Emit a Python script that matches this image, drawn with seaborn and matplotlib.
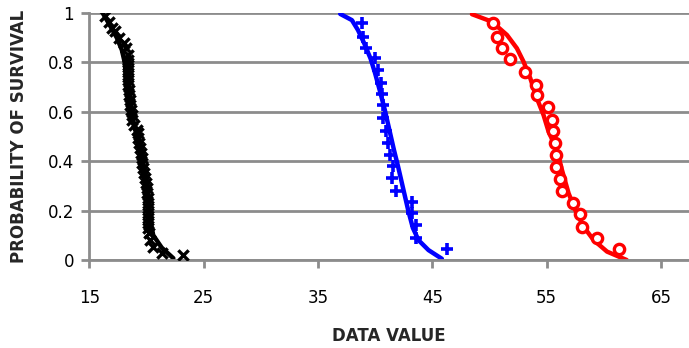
import matplotlib
matplotlib.use("Agg")
import matplotlib.pyplot as plt
import seaborn as sns
import pandas as pd

# ---- data ----
black_x = [16.38, 16.73, 16.97, 17.26, 17.60, 18.07, 18.19, 18.37, 18.37, 18.42,
           18.42, 18.42, 18.42, 18.42, 18.48, 18.48, 18.54, 18.57, 18.66, 18.72,
           18.77, 18.95, 19.16, 19.30, 19.30, 19.36, 19.45, 19.50, 19.59, 19.65,
           19.73, 19.79, 19.88, 19.94, 20.03, 20.08, 20.12, 20.12, 20.12, 20.12,
           20.12, 20.12, 20.17, 20.23, 20.32, 20.61, 21.34, 23.23]
black_y = [0.988, 0.964, 0.940, 0.924, 0.897, 0.877, 0.856, 0.829, 0.809, 0.789,
           0.768, 0.748, 0.728, 0.708, 0.687, 0.667, 0.647, 0.627, 0.607, 0.586,
           0.566, 0.546, 0.526, 0.512, 0.492, 0.472, 0.452, 0.431, 0.411, 0.391,
           0.371, 0.351, 0.330, 0.310, 0.290, 0.270, 0.250, 0.229, 0.209, 0.189,
           0.169, 0.148, 0.128, 0.108, 0.081, 0.054, 0.028, 0.020]

blue_x = [38.84, 38.98, 39.22, 40.00, 40.29, 40.50, 40.59, 40.73, 40.73, 40.97,
          41.17, 41.26, 41.55, 41.52, 41.84, 43.21, 43.21, 43.59, 43.59, 46.33]
blue_y = [0.957, 0.903, 0.858, 0.815, 0.768, 0.714, 0.670, 0.627, 0.573, 0.522,
          0.472, 0.425, 0.380, 0.330, 0.280, 0.236, 0.189, 0.142, 0.088, 0.045]

red_x = [50.30, 50.65, 51.09, 51.82, 53.13, 54.09, 54.20, 55.08, 55.46, 55.60,
         55.70, 55.80, 55.85, 56.19, 56.34, 57.30, 57.88, 58.09, 59.40, 61.29]
red_y = [0.957, 0.903, 0.858, 0.811, 0.761, 0.707, 0.667, 0.620, 0.566, 0.522,
         0.472, 0.425, 0.377, 0.326, 0.280, 0.229, 0.185, 0.135, 0.088, 0.043]

black_fit_x = [16.24, 16.80, 17.40, 17.85, 18.10, 18.30, 18.50, 18.80, 19.20,
               19.50, 19.80, 20.05, 20.25, 20.60, 21.34, 22.36]
black_fit_y = [0.994, 0.950, 0.900, 0.850, 0.800, 0.700, 0.620, 0.560, 0.500,
               0.420, 0.340, 0.260, 0.180, 0.100, 0.050, 0.007]

blue_fit_x = [36.95, 37.97, 38.50, 39.05, 39.60, 40.00, 40.40, 40.85, 41.25,
              41.65, 42.00, 42.40, 42.90, 43.30, 43.80, 44.67, 45.84]
blue_fit_y = [0.995, 0.970, 0.930, 0.876, 0.815, 0.755, 0.687, 0.607, 0.526,
              0.445, 0.380, 0.300, 0.200, 0.130, 0.080, 0.040, 0.005]

red_fit_x = [48.47, 50.20, 51.53, 52.40, 52.98, 53.57, 54.15, 54.73, 55.17,
             55.90, 56.34, 56.92, 57.50, 58.23, 59.10, 60.28, 62.00]
red_fit_y = [0.994, 0.964, 0.910, 0.856, 0.802, 0.735, 0.654, 0.586, 0.519,
             0.445, 0.364, 0.270, 0.202, 0.135, 0.081, 0.034, 0.000]

x_ticks = [15, 25, 35, 45, 55, 65]
y_ticks = [0, 0.2, 0.4, 0.6, 0.8, 1]
y_tick_labels = ["0", "0.2", "0.4", "0.6", "0.8", "1"]

sns.set_style("white")
plt.rcParams["font.family"] = ["Liberation Sans Narrow", "DejaVu Sans"]

fig = plt.figure(figsize=(6.89, 3.48), dpi=100)
ax = fig.add_axes([89.2 / 689, 1 - 260 / 348, 1 - 89.2 / 689, (260 - 12.7) / 348])

grid_c = "#8c8c8c"
for yv in y_ticks:
    ax.axhline(yv, color=grid_c, lw=2.0, zorder=0)

for fx, fy, col in [(black_fit_x, black_fit_y, "black"),
                    (blue_fit_x, blue_fit_y, "#0000ff"),
                    (red_fit_x, red_fit_y, "#ff0000")]:
    d = pd.DataFrame({"x": fx, "y": fy})
    sns.lineplot(data=d, x="x", y="y", sort=False, estimator=None, color=col,
                 lw=3.2, ax=ax, zorder=2)

db = pd.DataFrame({"x": black_x, "y": black_y})
sns.scatterplot(data=db, x="x", y="y", marker="x", color="black", s=55,
                linewidth=2.4, ax=ax, zorder=3)
du = pd.DataFrame({"x": blue_x, "y": blue_y})
sns.scatterplot(data=du, x="x", y="y", marker="+", color="#0000ff", s=70,
                linewidth=2.6, ax=ax, zorder=3)
dr = pd.DataFrame({"x": red_x, "y": red_y})
sns.scatterplot(data=dr, x="x", y="y", marker="o", facecolor="white",
                edgecolor="#ff0000", s=55, linewidth=2.4, ax=ax, zorder=3)

ax.set_xlim(15, 67.45)
ax.set_ylim(0, 1)
ax.set_xticks(x_ticks)
ax.set_xticklabels([str(v) for v in x_ticks])
ax.set_yticks(y_ticks)
ax.set_yticklabels(y_tick_labels)

for s in ["top", "right"]:
    ax.spines[s].set_visible(False)
ax.spines["left"].set_color(grid_c)
ax.spines["left"].set_linewidth(2.0)
ax.spines["bottom"].set_color(grid_c)
ax.spines["bottom"].set_linewidth(2.0)
ax.spines["left"].set_zorder(1)
ax.tick_params(axis="x", direction="out", length=6, width=2.0, color=grid_c,
               pad=15, labelsize=12, labelcolor="black", bottom=True)
ax.tick_params(axis="y", direction="out", length=6, width=2.0, color=grid_c,
               pad=5, labelsize=12, labelcolor="black", left=True)

ax.set_xlabel("DATA VALUE", fontsize=12, fontweight="bold", labelpad=14)
ax.set_ylabel("PROBABILITY OF SURVIVAL", fontsize=12, fontweight="bold", labelpad=14)
ax.patch.set_alpha(0)

fig.savefig("out.png", dpi=100)
